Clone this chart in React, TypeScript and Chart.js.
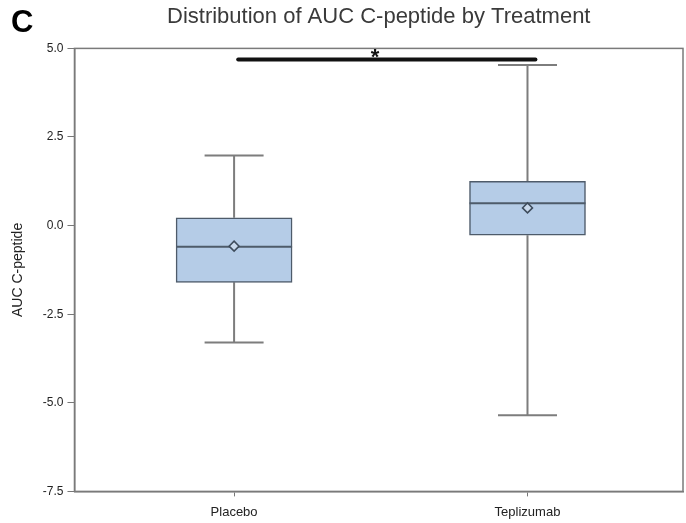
import React, { useEffect, useRef } from "react";
import { Chart, registerables } from "chart.js";

Chart.register(...registerables);

const categories = ["Placebo", "Teplizumab"];
const whiskerLow = [-3.3, -5.35];
const q1 = [-1.6, -0.27];
const median = [-0.6, 0.63];
const mean = [-0.58, 0.5];
const q3 = [0.22, 1.25];
const whiskerHigh = [1.98, 4.53];
const yTicks = [-7.5, -5.0, -2.5, 0.0, 2.5, 5.0];
const sigBar = { from: 0.014, to: 1.027, y: 4.69, label: "*", labelAt: 0.48 };

const FONT = "'Liberation Sans', Arial, sans-serif";

const boxPlugin = {
  id: "boxExtras",
  beforeDatasetsDraw(chart: any) {
    const { ctx, scales } = chart;
    const x = scales.x;
    const y = scales.y;
    ctx.save();
    ctx.strokeStyle = "#7d7d7d";
    ctx.lineWidth = 2;
    categories.forEach((_, i) => {
      const cx = x.getPixelForValue(i);
      const capHalf = 29.5;
      ctx.beginPath();
      ctx.moveTo(cx, y.getPixelForValue(whiskerHigh[i]));
      ctx.lineTo(cx, y.getPixelForValue(q3[i]));
      ctx.moveTo(cx, y.getPixelForValue(q1[i]));
      ctx.lineTo(cx, y.getPixelForValue(whiskerLow[i]));
      ctx.moveTo(cx - capHalf, y.getPixelForValue(whiskerHigh[i]));
      ctx.lineTo(cx + capHalf, y.getPixelForValue(whiskerHigh[i]));
      ctx.moveTo(cx - capHalf, y.getPixelForValue(whiskerLow[i]));
      ctx.lineTo(cx + capHalf, y.getPixelForValue(whiskerLow[i]));
      ctx.stroke();
    });
    ctx.restore();
  },
  afterDatasetsDraw(chart: any) {
    const { ctx, scales, chartArea } = chart;
    const x = scales.x;
    const y = scales.y;
    ctx.save();
    ctx.strokeStyle = "#4e5b6a";
    ctx.lineWidth = 2;
    categories.forEach((_, i) => {
      const cx = x.getPixelForValue(i);
      const half = 58;
      const my = y.getPixelForValue(median[i]);
      ctx.beginPath();
      ctx.moveTo(cx - half, my);
      ctx.lineTo(cx + half, my);
      ctx.stroke();
    });
    categories.forEach((_, i) => {
      const cx = x.getPixelForValue(i);
      const my = y.getPixelForValue(mean[i]);
      ctx.beginPath();
      ctx.moveTo(cx, my - 5);
      ctx.lineTo(cx + 5, my);
      ctx.lineTo(cx, my + 5);
      ctx.lineTo(cx - 5, my);
      ctx.closePath();
      ctx.fillStyle = "#c9d9ec";
      ctx.fill();
      ctx.strokeStyle = "#3e4c5c";
      ctx.lineWidth = 1.5;
      ctx.stroke();
    });
    ctx.strokeStyle = "#7a7a7a";
    ctx.lineWidth = 1.5;
    ctx.strokeRect(chartArea.left, chartArea.top, chartArea.right - chartArea.left, chartArea.bottom - chartArea.top);
    const sy = y.getPixelForValue(sigBar.y);
    ctx.strokeStyle = "#111";
    ctx.lineWidth = 4;
    ctx.lineCap = "round";
    ctx.beginPath();
    ctx.moveTo(x.getPixelForValue(sigBar.from), sy);
    ctx.lineTo(x.getPixelForValue(sigBar.to), sy);
    ctx.stroke();
    ctx.fillStyle = "#111";
    ctx.font = `bold 22px ${FONT}`;
    ctx.textAlign = "center";
    ctx.textBaseline = "alphabetic";
    ctx.fillText(sigBar.label, x.getPixelForValue(sigBar.labelAt), sy + 5);
    ctx.font = `bold 31px ${FONT}`;
    ctx.textAlign = "left";
    ctx.fillStyle = "#000";
    ctx.fillText("C", 11, 32);
    ctx.restore();
  },
};

export default function App() {
  const ref = useRef<HTMLCanvasElement>(null);
  useEffect(() => {
    document.body.style.margin = "0";
    const chart = new Chart(ref.current!, {
      type: "bar",
      data: {
        datasets: [
          {
            data: categories.map((_, i) => ({ x: i, y: [q1[i], q3[i]] })) as any,
            backgroundColor: "#b5cce7",
            borderColor: "#4e5b6a",
            borderWidth: 1.5,
            borderSkipped: false,
            barThickness: 116,
          },
        ],
      },
      options: {
        animation: false,
        responsive: false,
        devicePixelRatio: 1,
        layout: { padding: { left: 10, right: 3, top: 0, bottom: -5 } },
        plugins: {
          legend: { display: false },
          tooltip: { enabled: false },
          title: {
            display: true,
            fullSize: false,
            text: "Distribution of AUC C-peptide by Treatment",
            color: "#3a3a3a",
            font: { family: FONT, size: 22, weight: "normal" },
            padding: { top: 4, bottom: 18 },
          },
        },
        scales: {
          x: {
            type: "linear",
            offset: false,
            min: -0.544,
            max: 1.53,
            afterBuildTicks: (axis: any) => {
              axis.ticks = categories.map((_, i) => ({ value: i }));
            },
            ticks: {
              callback: (v: any) => categories[v as number] ?? "",
              color: "#222",
              font: { family: FONT, size: 13 },
              padding: 8,
              autoSkip: false,
              maxRotation: 0,
            },
            grid: { display: true, offset: false, drawOnChartArea: false, drawTicks: true, tickLength: 5, color: "#777" },
            border: { display: true, color: "#7a7a7a", width: 1.5 },
          },
          y: {
            type: "linear",
            min: -7.5,
            max: 5.0,
            afterBuildTicks: (axis: any) => {
              axis.ticks = yTicks.map((v) => ({ value: v }));
            },
            ticks: {
              callback: (v: any) => Number(v).toFixed(1),
              color: "#222",
              font: { family: FONT, size: 12 },
              padding: 4,
            },
            grid: { display: true, drawOnChartArea: false, drawTicks: true, tickLength: 7, color: "#777" },
            border: { display: true, color: "#7a7a7a", width: 1.5 },
            title: {
              display: true,
              text: "AUC C-peptide",
              color: "#222",
              font: { family: FONT, size: 14 },
              padding: { top: 0, bottom: 12 },
            },
          },
        },
      },
      plugins: [boxPlugin],
    });
    return () => chart.destroy();
  }, []);
  return (
    <div style={{ width: 686, height: 523 }}>
      <canvas ref={ref} width={686} height={523} style={{ display: "block" }} />
    </div>
  );
}
